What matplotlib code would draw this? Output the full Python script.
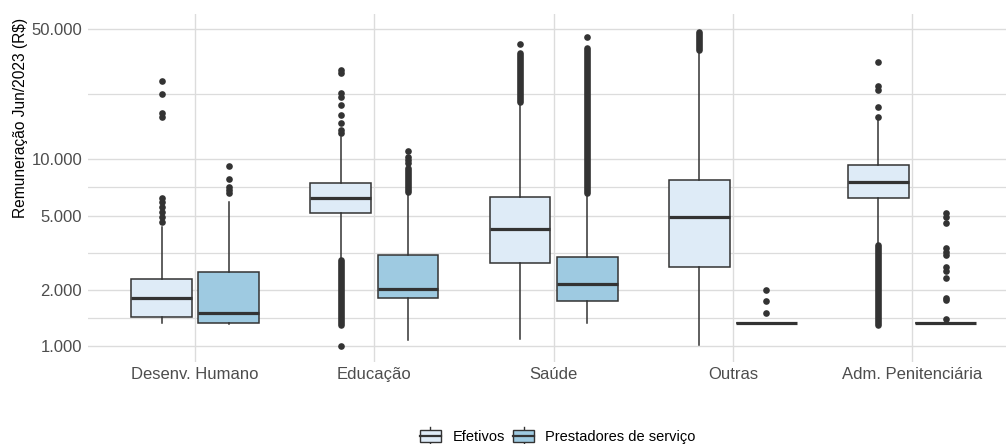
"""
Boxplots of pay (Jun/2023) by area, efetivos vs prestadores
"""

import matplotlib
matplotlib.use("Agg")
import matplotlib.pyplot as plt
from matplotlib.legend_handler import HandlerBase
from matplotlib.patches import Rectangle, Patch
from matplotlib.lines import Line2D

plt.rcParams['font.family'] = ['Liberation Sans', 'DejaVu Sans']

categories = ["Desenv. Humano", "Educação", "Saúde", "Outras", "Adm. Penitenciária"]
series_names = ["Efetivos", "Prestadores de serviço"]

# box stats (R$)
efetivos_lo = [1323, 2950, 1086, 1009, 3475]
efetivos_q1 = [1436, 5140, 2785, 2641, 6240]
efetivos_med = [1801, 6240, 4220, 4910, 7570]
efetivos_q3 = [2285, 7500, 6270, 7760, 9330]
efetivos_hi = [4355, 13250, 20370, 37750, 16500]

prest_lo = [1320, 1077, 1333, 1323, 1323]
prest_q1 = [1323, 1801, 1737, 1323, 1323]
prest_med = [1497, 2020, 2157, 1323, 1323]
prest_q3 = [2500, 3075, 3000, 1323, 1323]
prest_hi = [5930, 6710, 6580, 1323, 1323]

# single outliers
efetivos_out = [
    [26400, 22350, 17660, 16940, 6200, 5930, 5580, 5250, 4935, 4640],
    [30100, 28900, 22600, 21700, 19600, 17300, 15600, 14400, 13800, 1000],
    [41400],
    [],
    [33100, 24700, 23500, 19150, 16940],
]
prest_out = [
    [9230, 7850, 7150, 6850, 6580],
    [11140, 10330, 9950, 9530],
    [45300],
    [1995, 1750, 1496],
    [5180, 4930, 4550, 3340, 3200, 3075, 2660, 2533, 2307, 1815, 1764, 1396],
]

# outliers so dense they merge into a bar: (low, high), None = no band
efetivos_band = [None, (1296, 2900), (20370, 37100), (38600, 48300), (1296, 3475)]
prest_band = [None, (6710, 8960), (6580, 39350), None, None]

y_ticks = [1000, 2000, 5000, 10000, 50000]

colors = ["#DEEBF7", "#9ECAE1"]
dark = "#333333"
grid_c = "#DCDCDC"


class BoxKey(HandlerBase):
    def create_artists(self, legend, orig_handle, xdescent, ydescent,
                       width, height, fontsize, trans):
        x0, y0 = -xdescent, -ydescent
        bh = height * 0.62
        by = y0 + (height - bh) / 2
        cx = x0 + width / 2
        stub_top = Line2D([cx, cx], [by + bh, y0 + height], color=dark, lw=1.0, transform=trans)
        stub_bot = Line2D([cx, cx], [y0, by], color=dark, lw=1.0, transform=trans)
        rect = Rectangle((x0, by), width, bh, facecolor=orig_handle.get_facecolor(),
                         edgecolor=dark, lw=1.0, transform=trans)
        mid = Line2D([x0, x0 + width], [by + bh / 2, by + bh / 2], color=dark, lw=1.6,
                     transform=trans)
        return [stub_top, stub_bot, rect, mid]


fig = plt.figure(figsize=(10.06, 4.44), dpi=100)
ax = fig.add_axes([0.0871, 0.1847, 0.9264, 0.7838])

groups = [
    (efetivos_lo, efetivos_q1, efetivos_med, efetivos_q3, efetivos_hi, efetivos_out, efetivos_band),
    (prest_lo, prest_q1, prest_med, prest_q3, prest_hi, prest_out, prest_band),
]
offsets = [-0.1875, 0.1875]

for s, (lo, q1, med, q3, hi, out, band) in enumerate(groups):
    stats = []
    for i in range(len(categories)):
        stats.append({'whislo': lo[i], 'q1': q1[i], 'med': med[i], 'q3': q3[i],
                      'whishi': hi[i], 'fliers': out[i]})
    pos = [i + 1 + offsets[s] for i in range(len(categories))]
    ax.bxp(stats, positions=pos, widths=0.34, patch_artist=True, showcaps=False,
           boxprops=dict(facecolor=colors[s], edgecolor=dark, linewidth=1.1),
           medianprops=dict(color=dark, linewidth=2.3, solid_capstyle='butt'),
           whiskerprops=dict(color=dark, linewidth=1.1),
           flierprops=dict(marker='o', markersize=4.8, markerfacecolor=dark,
                           markeredgecolor='none'),
           zorder=3)
    for i, b in enumerate(band):
        if b is None:
            continue
        ax.plot([pos[i], pos[i]], [b[0], b[1]], color=dark, lw=4.8,
                solid_capstyle='round', zorder=3)

ax.set_yscale('log')
ax.set_ylim(821, 60100)
ax.set_xlim(0.4, 5.6)

ax.set_yticks(y_ticks)
ax.set_yticklabels([f"{v:,}".replace(",", ".") for v in y_ticks])
minor = [(a * b) ** 0.5 for a, b in zip(y_ticks[:-1], y_ticks[1:])]
ax.set_yticks(minor, minor=True)
ax.yaxis.set_minor_formatter(plt.NullFormatter())
ax.set_xticks(range(1, len(categories) + 1))
ax.set_xticklabels(categories)

ax.tick_params(axis='both', which='both', length=0, labelsize=12, labelcolor="#4D4D4D")
ax.tick_params(axis='y', pad=4)
ax.tick_params(axis='x', pad=3.5)
ax.grid(True, which='major', color=grid_c, linewidth=1.0)
ax.grid(True, which='minor', axis='y', color=grid_c, linewidth=0.9)
ax.set_axisbelow(True)
for sp in ax.spines.values():
    sp.set_visible(False)

ax.set_ylabel("Remuneração Jun/2023 (R$)", fontsize=11.2, color="black")
ax.yaxis.set_label_coords(-0.0639, 0.7026)

handles = [Patch(facecolor=c, edgecolor=dark) for c in colors]
fig.legend(handles, series_names, loc='center', bbox_to_anchor=(0.5547, 0.018),
           ncol=2, frameon=False, fontsize=10.5, handler_map={Patch: BoxKey()},
           handlelength=1.4, handleheight=1.5, handletextpad=0.8, columnspacing=0.6)

fig.savefig("out.png", dpi=100)
